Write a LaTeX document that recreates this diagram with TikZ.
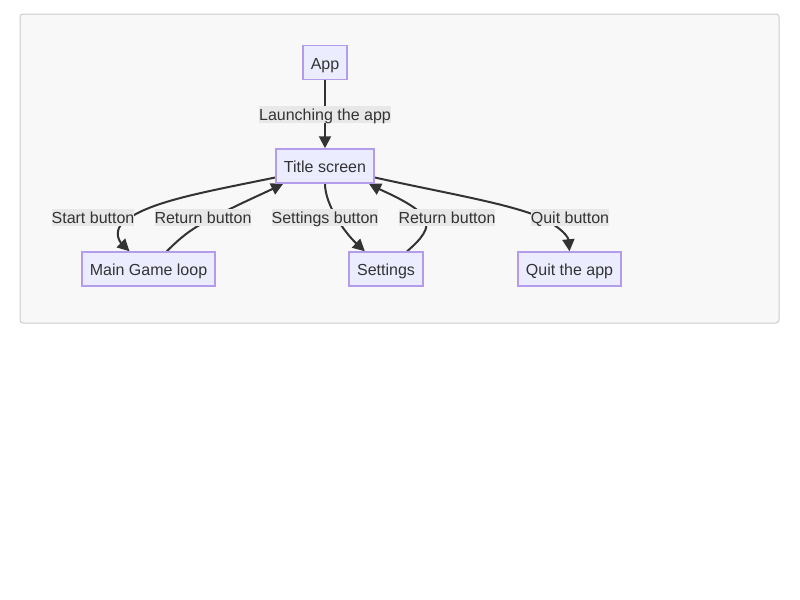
\documentclass[tikz,border=0pt]{standalone}
\usepackage{fontspec}
\setmainfont{Liberation Sans}
\usetikzlibrary{arrows.meta,backgrounds}
\definecolor{boxfill}{HTML}{ECECFF}
\definecolor{boxline}{HTML}{B49CEC}
\definecolor{edgecol}{HTML}{333333}
\definecolor{lblfill}{HTML}{E8E8E8}
\definecolor{canvas}{HTML}{F8F8F8}
\definecolor{framecol}{HTML}{CCCCCC}
\begin{document}
\begin{tikzpicture}[x=0.5pt, y=-0.5pt,
  state/.style={draw=boxline, fill=boxfill, line width=0.75pt, inner xsep=4pt, inner ysep=0pt, minimum height=17pt, text height=8pt, text depth=1.2pt, text=edgecol, font=\fontsize{8}{9.6}\selectfont},
  lbl/.style={fill=lblfill, inner xsep=0pt, inner ysep=0.5pt, text height=7.15pt, text depth=0.35pt, text=edgecol, font=\fontsize{8}{9.6}\selectfont},
  flow/.style={draw=edgecol, line width=1pt, -{Triangle[length=6pt, width=6pt]}}]
  \useasboundingbox (0,0) rectangle (800,600);
  % states
  \node[state] (app) at (325, 62.5) {App};
  \node[state] (title) at (325, 166) {Title screen};
  \node[state] (game) at (148.5, 269) {Main Game loop};
  \node[state] (settings) at (386, 269) {Settings};
  \node[state] (quit) at (569.5, 269) {Quit the app};
  % edge labels
  \node[lbl] (lLaunch) at (325, 114) {Launching the app};
  \node[lbl] (lStart) at (93, 217) {Start button};
  \node[lbl] (lRetGame) at (203, 217) {Return button};
  \node[lbl] (lSettings) at (325, 217) {Settings button};
  \node[lbl] (lRetSet) at (447, 217) {Return button};
  \node[lbl] (lQuit) at (570, 217) {Quit button};
  \begin{pgfonlayer}{background}
    \draw[fill=canvas, draw=framecol, line width=0.5pt, rounded corners=1.5pt] (20,14) rectangle (779,323);
    \draw[flow] (app.south) -- (title.north);
    \draw[flow] (title.193) .. controls (200,193) and (140,203) .. (120,226) .. controls (114,236) and (122,244) .. (game.137);
    \draw[flow] (game.44) .. controls (180,238) and (190,230) .. (205,222) .. controls (230,208) and (260,195) .. (title.203);
    \draw[flow] (title.south) .. controls (325,205) and (345,233) .. (settings.140);
    \draw[flow] (settings.40) .. controls (420,240) and (432,228) .. (424,216) .. controls (412,203) and (385,192) .. (title.338);
    \draw[flow] (title.347) .. controls (440,192) and (500,202) .. (535,215) .. controls (555,223) and (568,235) .. (quit.north);
  \end{pgfonlayer}
\end{tikzpicture}
\end{document}
